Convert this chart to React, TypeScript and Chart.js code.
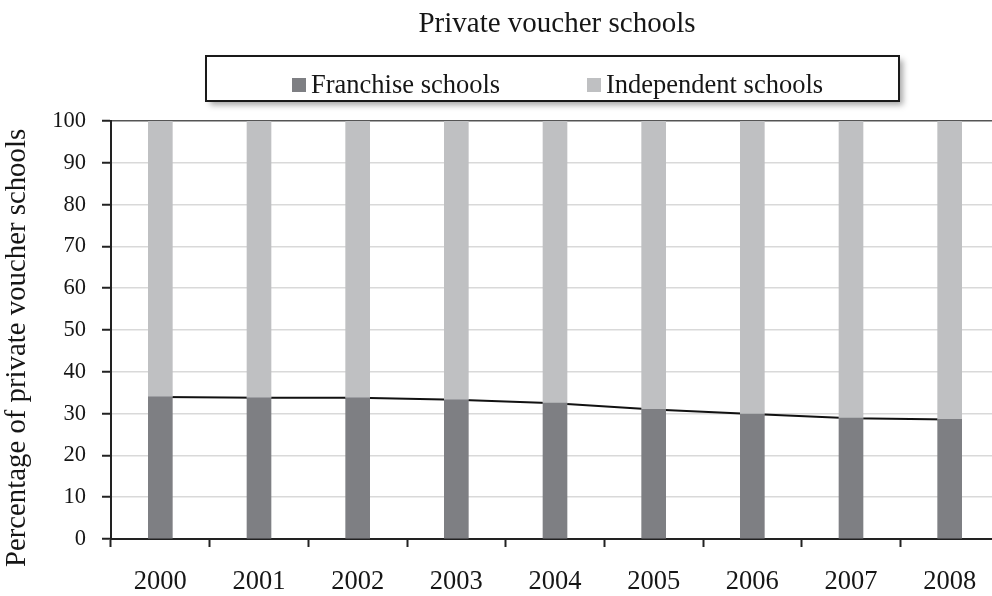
import React, { useEffect, useRef } from "react";
import { Chart, registerables } from "chart.js";

Chart.register(...registerables);

const years = ["2000", "2001", "2002", "2003", "2004", "2005", "2006", "2007", "2008"];
const franchise = [34.0, 33.8, 33.8, 33.3, 32.5, 31.0, 29.9, 28.9, 28.6];
const independent = [66.0, 66.2, 66.2, 66.7, 67.5, 69.0, 70.1, 71.1, 71.4];
const yTicks = [0, 10, 20, 30, 40, 50, 60, 70, 80, 90, 100];
const seriesNames = ["Franchise schools", "Independent schools"];
const titleText = "Private voucher schools";
const yTitleText = "Percentage of private voucher schools";

const FONT = "'Liberation Serif', 'Times New Roman', serif";
const INK = "#161616";
const DARK = "#7e7f83";
const LIGHT = "#bfc0c2";

const decorPlugin = {
  id: "decor",
  afterDraw(chart: any) {
    const ctx = chart.ctx as CanvasRenderingContext2D;
    ctx.save();
    // title
    ctx.fillStyle = INK;
    ctx.font = `29px ${FONT}`;
    ctx.textAlign = "center";
    ctx.textBaseline = "alphabetic";
    ctx.fillText(titleText, 557, 32);

    // y axis title
    ctx.save();
    ctx.translate(25, 348);
    ctx.rotate(-Math.PI / 2);
    ctx.font = `28.8px ${FONT}`;
    ctx.textAlign = "center";
    ctx.textBaseline = "alphabetic";
    ctx.fillText(yTitleText, 0, 0);
    ctx.restore();

    // legend box with shadow
    ctx.save();
    ctx.shadowColor = "rgba(0,0,0,0.35)";
    ctx.shadowBlur = 6;
    ctx.shadowOffsetX = 4;
    ctx.shadowOffsetY = 4;
    ctx.fillStyle = "#ffffff";
    ctx.fillRect(206, 56, 693, 45);
    ctx.restore();
    ctx.strokeStyle = "#1a1a1a";
    ctx.lineWidth = 2;
    ctx.strokeRect(206, 56, 693, 45);

    const items = chart.data.datasets.filter((d: any) => seriesNames.includes(d.label));
    const xs = [292, 587];
    ctx.font = `26.5px ${FONT}`;
    ctx.textAlign = "left";
    ctx.textBaseline = "alphabetic";
    items.forEach((d: any, i: number) => {
      ctx.fillStyle = d.backgroundColor;
      ctx.fillRect(xs[i], 78, 14, 14);
      ctx.fillStyle = INK;
      ctx.fillText(d.label, xs[i] + 19, 93);
    });
    ctx.restore();
  },
};

export default function App() {
  const ref = useRef<HTMLCanvasElement | null>(null);

  useEffect(() => {
    const canvas = ref.current;
    if (!canvas) return;
    const chart = new Chart(canvas, {
      type: "bar",
      data: {
        labels: years,
        datasets: [
          {
            type: "line",
            label: "trend",
            data: franchise,
            borderColor: "#111111",
            borderWidth: 2,
            pointRadius: 0,
            fill: false,
            tension: 0,
            order: 3,
            stack: "line",
          } as any,
          {
            label: seriesNames[0],
            data: franchise,
            backgroundColor: DARK,
            barThickness: 24,
            order: 1,
            stack: "s",
          },
          {
            label: seriesNames[1],
            data: independent,
            backgroundColor: LIGHT,
            barThickness: 24,
            order: 2,
            stack: "s",
          },
        ],
      },
      options: {
        responsive: false,
        animation: false,
        layout: { padding: { top: 121, right: 1, left: 0, bottom: 0 } },
        plugins: {
          legend: { display: false },
          title: { display: false },
          tooltip: { enabled: false },
        },
        scales: {
          x: {
            stacked: true,
            offset: true,
            grid: {
              offset: true,
              drawOnChartArea: false,
              drawTicks: true,
              tickLength: 8,
              tickColor: "#222222",
              tickWidth: 2,
            },
            border: { color: "#222222", width: 2 },
            ticks: {
              font: { family: FONT, size: 26.5 },
              color: INK,
              padding: 19,
              maxRotation: 0,
            },
            afterFit(s: any) {
              s.height = 57;
            },
          },
          y: {
            stacked: true,
            min: yTicks[0],
            max: yTicks[yTicks.length - 1],
            afterBuildTicks(s: any) {
              s.ticks = yTicks.map((v) => ({ value: v }));
            },
            ticks: {
              font: { family: FONT, size: 22.5 },
              color: INK,
              padding: 16,
            },
            grid: {
              color: (c: any) => (c.tick && c.tick.value === 100 ? "#555555" : "#d9d9d9"),
              lineWidth: 1.5,
              tickLength: 9,
              tickColor: "#222222",
              tickWidth: 2,
            },
            border: { color: "#222222", width: 2 },
            afterFit(s: any) {
              s.width = 111;
            },
          },
        },
      },
      plugins: [decorPlugin],
    });
    return () => chart.destroy();
  }, []);

  return (
    <div
      style={{
        position: "fixed",
        left: 0,
        top: 0,
        width: 992,
        height: 596,
        overflow: "hidden",
        background: "#ffffff",
      }}
    >
      <canvas ref={ref} width={1000} height={596} style={{ display: "block" }} />
    </div>
  );
}
